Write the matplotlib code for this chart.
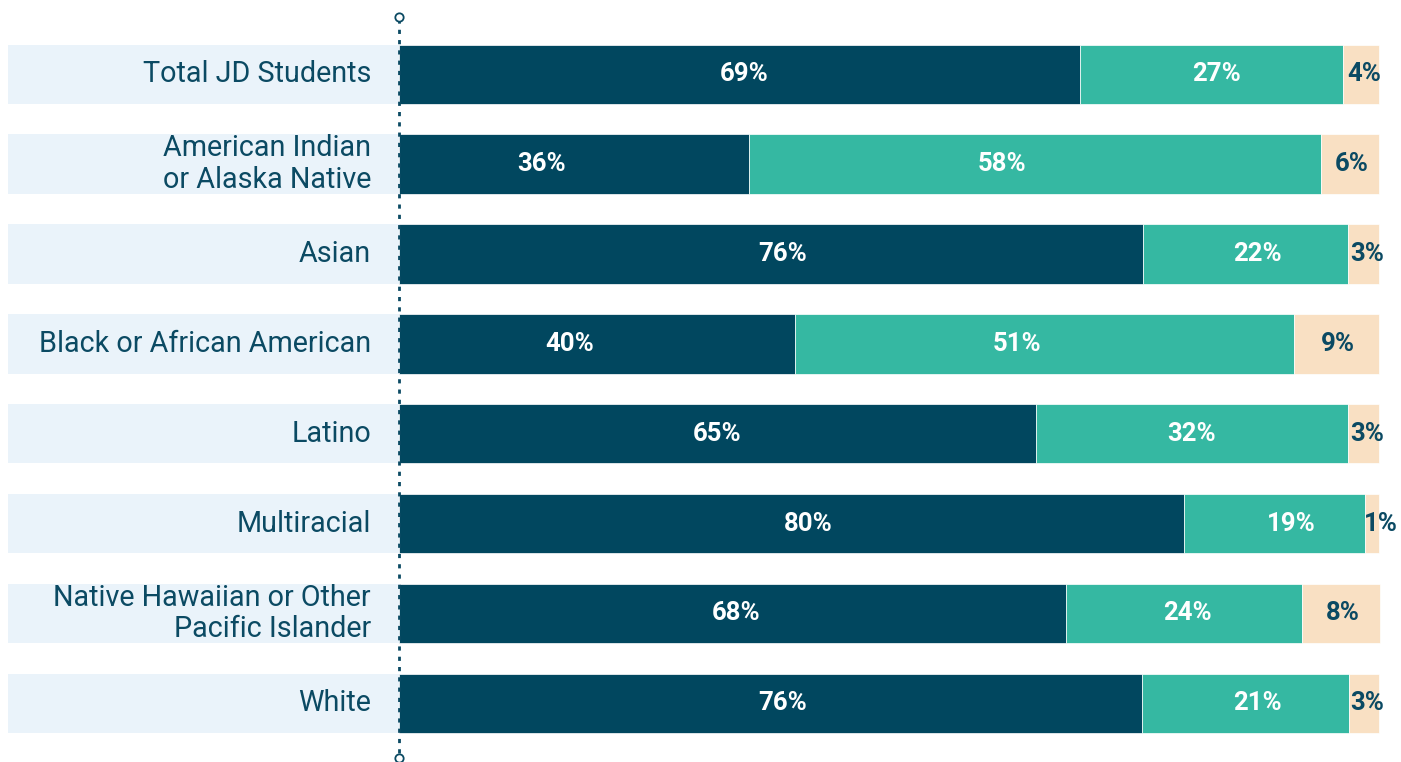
import matplotlib
matplotlib.use("Agg")
import matplotlib.pyplot as plt
import numpy as np

# categories, top to bottom
groups = ["Total JD Students", "American Indian\nor Alaska Native", "Asian",
          "Black or African American", "Latino", "Multiracial",
          "Native Hawaiian or Other\nPacific Islander", "White"]

# segment shares (percent of full bar)
share_dark = [69.5, 35.7, 75.9, 40.4, 65.0, 80.1, 68.1, 75.8]
share_teal = [26.8, 58.4, 20.9, 50.9, 31.8, 18.5, 24.0, 21.1]
share_peach = [3.7, 5.9, 3.2, 8.7, 3.2, 1.4, 8.0, 3.1]

# labels printed on the segments
label_dark = [69, 36, 76, 40, 65, 80, 68, 76]
label_teal = [27, 58, 22, 51, 32, 19, 24, 21]
label_peach = [4, 6, 3, 9, 3, 1, 8, 3]

DARK = "#01475F"
TEAL = "#35B8A2"
PEACH = "#F9E0C3"
LABEL_BG = "#EAF3FA"
TEXT = "#0B4A63"

plt.rcParams["font.family"] = ["Roboto", "DejaVu Sans"]

fig = plt.figure(figsize=(14.01, 7.62), dpi=100)
ax = fig.add_axes([0, 0, 1, 1])
ax.set_xlim(-40.71, 102.24)
ax.set_ylim(7.654, -0.828)
ax.axis("off")

y = np.arange(len(groups))
h = 0.662

# label background strips
ax.barh(y, 40.0, left=-39.9, height=h, color=LABEL_BG, linewidth=0)

dark = np.array(share_dark)
teal = np.array(share_teal)
peach = np.array(share_peach)
ax.barh(y, dark, height=h, color=DARK, edgecolor="white", linewidth=0.5)
ax.barh(y, teal, left=dark, height=h, color=TEAL, edgecolor="white", linewidth=0.5)
ax.barh(y, peach, left=dark + teal, height=h, color=PEACH, edgecolor="white", linewidth=0.5)

for i, name in enumerate(groups):
    ax.text(-2.85, y[i], name, ha="right", va="center", fontsize=20.7,
            color=TEXT, linespacing=1.16)
    # the value labels drift with the size of the dark segment in the original
    shift = 0.114 * (dark[i] - 65)
    ax.text(dark[i] / 2 + shift, y[i], f"{label_dark[i]}%", ha="center",
            va="center", fontsize=18.5, fontweight="bold", color="white")
    ax.text(dark[i] + teal[i] / 2 + shift, y[i], f"{label_teal[i]}%",
            ha="center", va="center", fontsize=18.5, fontweight="bold",
            color="white")
    px = dark[i] + teal[i] + peach[i] / 2
    if peach[i] < 2:
        px += 0.9
    elif peach[i] < 4:
        px += 0.35
    else:
        px += 0.2
    ax.text(px, y[i], f"{label_peach[i]}%", ha="center", va="center",
            fontsize=18.5, fontweight="bold", color=TEXT)

# dotted baseline with end circles
ax.plot([0, 0], [-0.62, 7.58], color=TEXT, linewidth=2,
        linestyle=(0, (1.5, 2.2)), zorder=5, clip_on=False)
ax.plot([0, 0], [-0.635, 7.61], linestyle="none", marker="o", markersize=6,
        markerfacecolor="white", markeredgecolor=TEXT, markeredgewidth=1.3,
        zorder=6, clip_on=False)

fig.savefig("out.png", dpi=100)
